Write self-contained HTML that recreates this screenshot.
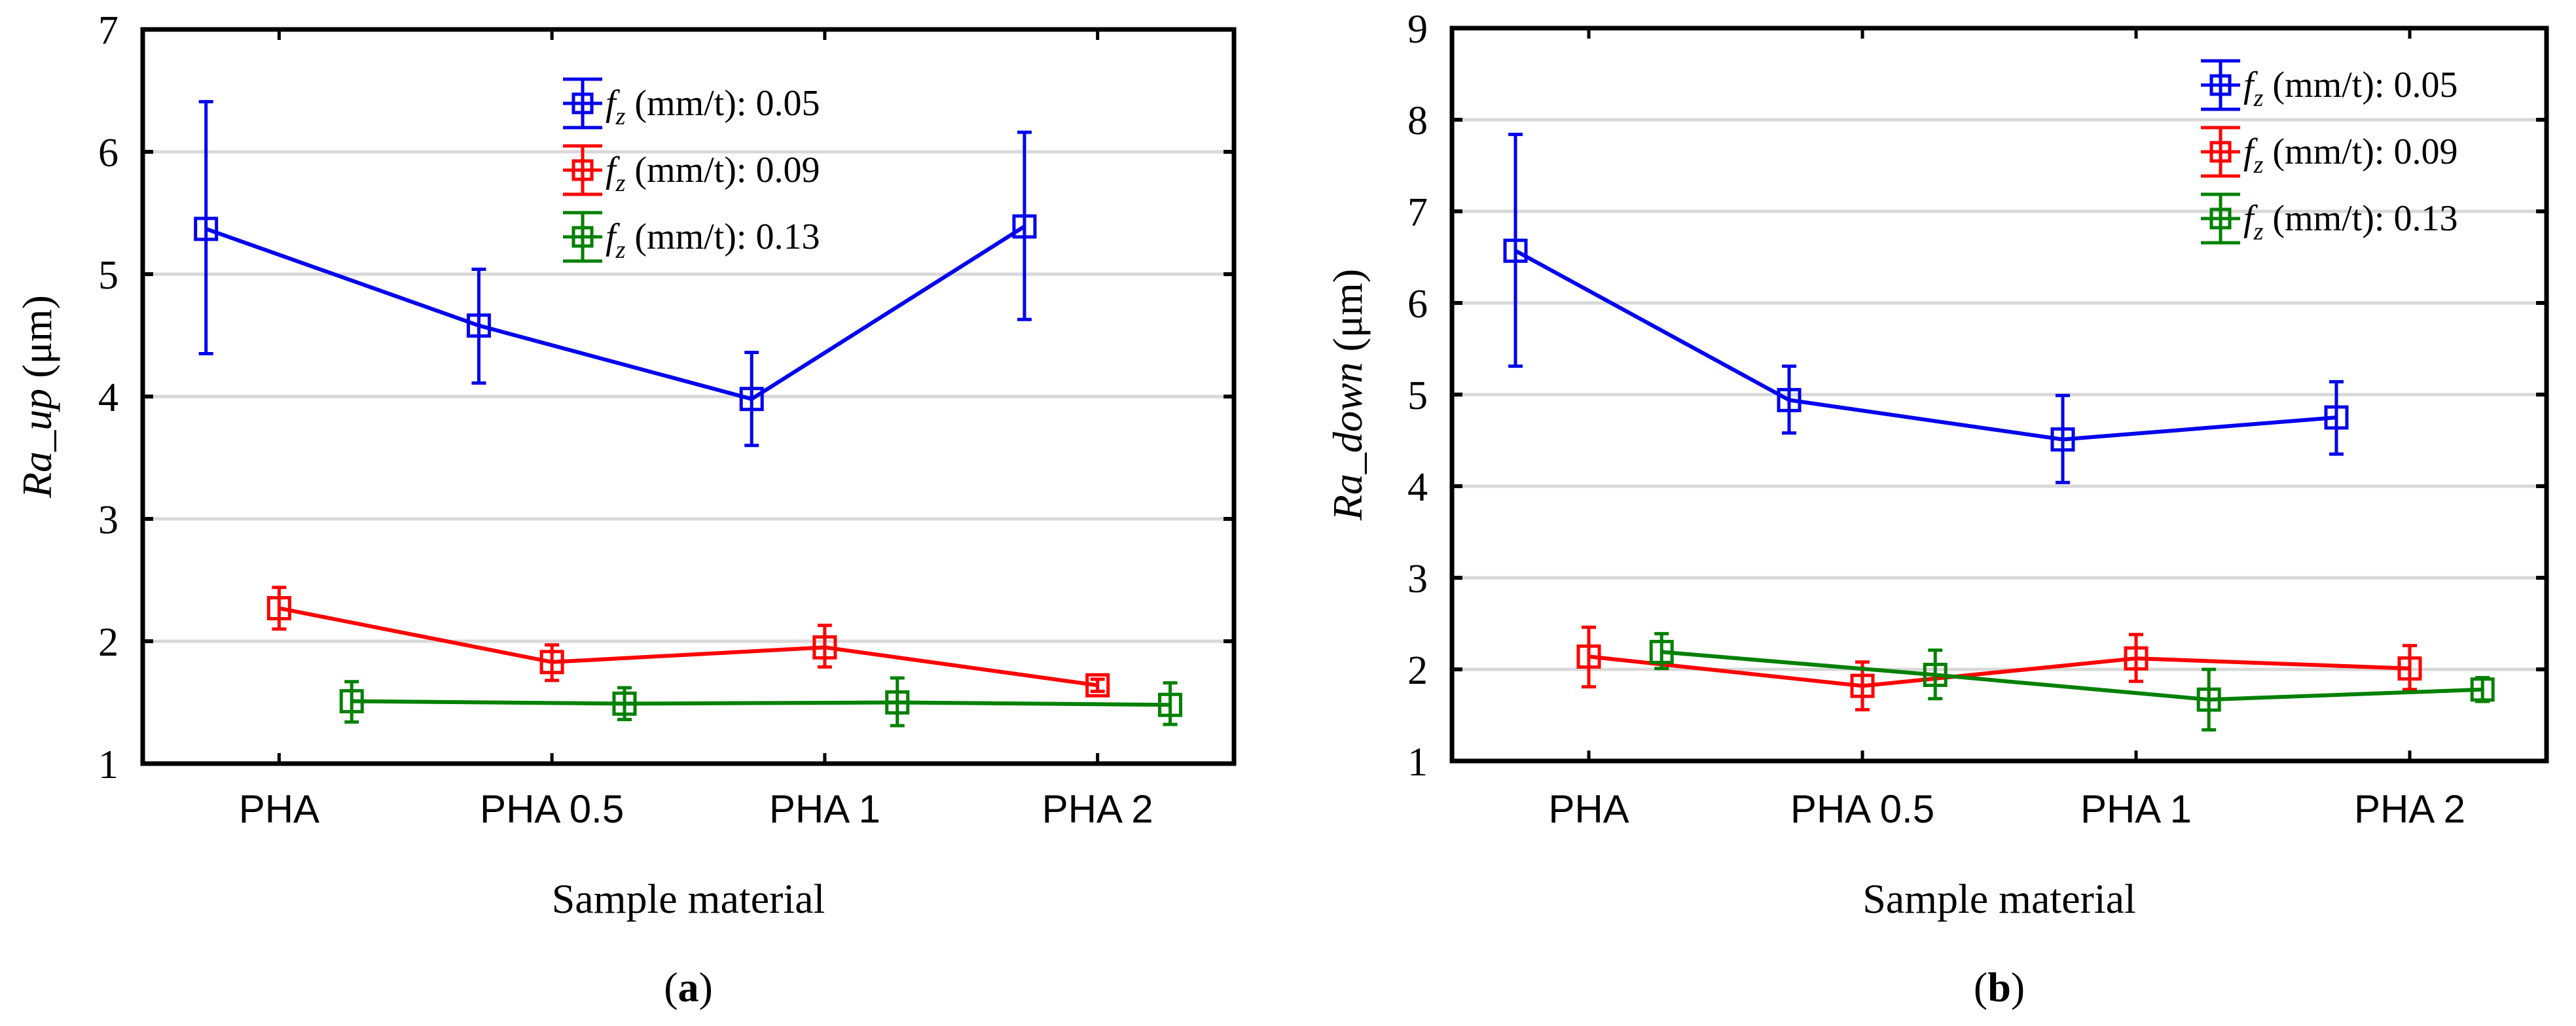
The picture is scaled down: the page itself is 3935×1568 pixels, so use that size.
<!DOCTYPE html>
<html><head><meta charset="utf-8"><style>
html,body{margin:0;padding:0;background:#fff;}
svg{display:block;}
text{font-family:"Liberation Serif",serif;fill:#000;}
.sans{font-family:"Liberation Sans",sans-serif;}
</style></head><body>
<svg id="fig" width="3935" height="1568" viewBox="0 0 3935 1568" xmlns="http://www.w3.org/2000/svg"></svg>
<script>
const categories = ["PHA", "PHA 0.5", "PHA 1", "PHA 2"];
const seriesNames = ["0.05", "0.09", "0.13"];
const colors = ["#0000ee", "#ff0000", "#008000"];
// panel (a) Ra_up
const aMean005 = [5.37, 4.58, 3.98, 5.39];
const aLow005 = [4.35, 4.11, 3.60, 4.63];
const aHigh005 = [6.41, 5.04, 4.36, 6.16];
const aMean009 = [2.27, 1.83, 1.95, 1.64];
const aLow009 = [2.10, 1.68, 1.79, 1.59];
const aHigh009 = [2.44, 1.97, 2.13, 1.69];
const aMean013 = [1.51, 1.49, 1.50, 1.48];
const aLow013 = [1.34, 1.36, 1.31, 1.32];
const aHigh013 = [1.67, 1.62, 1.70, 1.66];
const aTicks = [1, 2, 3, 4, 5, 6, 7];
// panel (b) Ra_down
const bMean005 = [6.57, 4.94, 4.51, 4.75];
const bLow005 = [5.31, 4.58, 4.04, 4.35];
const bHigh005 = [7.84, 5.31, 4.99, 5.14];
const bMean009 = [2.14, 1.82, 2.12, 2.01];
const bLow009 = [1.81, 1.56, 1.87, 1.78];
const bHigh009 = [2.46, 2.08, 2.38, 2.26];
const bMean013 = [2.19, 1.94, 1.67, 1.78];
const bLow013 = [2.01, 1.68, 1.34, 1.65];
const bHigh013 = [2.39, 2.21, 2.00, 1.91];
const bTicks = [1, 2, 3, 4, 5, 6, 7, 8, 9];

const NS = "http://www.w3.org/2000/svg";
const svg = document.getElementById("fig");
function el(tag, attrs, parent, txt) {
  const e = document.createElementNS(NS, tag);
  for (const k in attrs) e.setAttribute(k, attrs[k]);
  if (txt !== undefined) e.textContent = txt;
  (parent || svg).appendChild(e);
  return e;
}

function panel(cfg) {
  const g = el("g", {});
  
  
  const L = cfg.left, R = cfg.right, T = cfg.top, B = cfg.bottom;
  const ymin = cfg.ticks[0], ymax = cfg.ticks[cfg.ticks.length - 1];
  const y = v => B - (v - ymin) / (ymax - ymin) * (B - T);
  const band = (R - L) / categories.length;
  const x = i => L + band * (i + 0.5);
  const off = [-0.268 * band, 0, 0.266 * band];
  cfg.ticks.forEach(t => {
    if (t !== ymin && t !== ymax) {
      const gl = el("line", {x1: L, x2: R, y1: y(t), y2: y(t), stroke: "#d8d8d8", "stroke-width": 5}, g);
      
      
    }
    el("line", {x1: L, x2: L + 16, y1: y(t), y2: y(t), stroke: "#000", "stroke-width": 6}, g);
    el("line", {x1: R - 16, x2: R, y1: y(t), y2: y(t), stroke: "#000", "stroke-width": 6}, g);
    const tl = el("text", {x: L - 37, y: y(t) + 22, "font-size": 62, "text-anchor": "end"}, g, String(t));
    
    
  });
  categories.forEach((c, i) => {
    el("line", {x1: x(i), x2: x(i), y1: B, y2: B - 16, stroke: "#000", "stroke-width": 5}, g);
    el("line", {x1: x(i), x2: x(i), y1: T, y2: T + 16, stroke: "#000", "stroke-width": 5}, g);
    const xl = el("text", {x: x(i), y: 1257, "font-size": 60, "text-anchor": "middle", "class": "sans"}, g, c);
    
    
  });
  const fr = el("rect", {x: L, y: T, width: R - L, height: B - T, fill: "none", stroke: "#000", "stroke-width": 7}, g);
  
  
  cfg.series.forEach((s, si) => {
    const sg = el("g", {}, g);
    
    
    const col = colors[si];
    const pts = s.mean.map((v, i) => (x(i) + off[si]) + "," + y(v)).join(" ");
    const pl = el("polyline", {points: pts, fill: "none", stroke: col, "stroke-width": 6}, sg);
    
    
    s.mean.forEach((v, i) => {
      const cx = x(i) + off[si];
      const eb = el("path", {d: `M${cx},${y(s.high[i])}V${y(s.low[i])}M${cx - 11},${y(s.high[i])}H${cx + 11}M${cx - 11},${y(s.low[i])}H${cx + 11}`, stroke: col, "stroke-width": 5, fill: "none"}, sg);
      
      
      const mk = el("rect", {x: cx - 16, y: y(v) - 16, width: 32, height: 32, fill: "none", stroke: col, "stroke-width": 5}, sg);
      
      
    });
  });
  const lg = el("g", {}, g);
  
  
  seriesNames.forEach((n, si) => {
    const ly = cfg.legY + si * 102, lx = cfg.legX, col = colors[si];
    const en = el("g", {}, lg);
    
    
    el("path", {d: `M${lx},${ly - 37}V${ly + 37}M${lx - 30},${ly - 37}H${lx + 30}M${lx - 30},${ly + 37}H${lx + 30}M${lx - 30},${ly}H${lx + 30}`, stroke: col, "stroke-width": 5, fill: "none"}, en);
    el("rect", {x: lx - 14, y: ly - 14, width: 28, height: 28, fill: "none", stroke: col, "stroke-width": 5}, en);
    const t = el("text", {x: lx + 35, y: ly + 18, "font-size": 56}, en);
    el("tspan", {"font-style": "italic"}, t, "f");
    el("tspan", {"font-style": "italic", "font-size": 38, dy: 14}, t, "z");
    el("tspan", {dy: -14}, t, " (mm/t): " + n);
  });
  const yt = el("text", {x: 0, y: 0, "font-size": 64, "text-anchor": "middle", transform: `translate(${cfg.yTitleX},${(T + B) / 2}) rotate(-90)`}, g);
  
  
  el("tspan", {"font-style": "italic"}, yt, cfg.yTitle);
  el("tspan", {}, yt, " (μm)");
  const xt = el("text", {x: (L + R) / 2, y: 1395, "font-size": 64, "text-anchor": "middle"}, g, "Sample material");
  
  
  const cap = el("text", {x: (L + R) / 2, y: 1530, "font-size": 64, "text-anchor": "middle"}, g);
  
  
  el("tspan", {}, cap, "(");
  el("tspan", {"font-weight": "bold"}, cap, cfg.letter);
  el("tspan", {}, cap, ")");
}

panel({name: "chart-a-ra-up", left: 218, right: 1885, top: 45, bottom: 1167, ticks: aTicks,
  series: [{mean: aMean005, low: aLow005, high: aHigh005}, {mean: aMean009, low: aLow009, high: aHigh009}, {mean: aMean013, low: aLow013, high: aHigh013}],
  legX: 890, legY: 158, yTitle: "Ra_up", yTitleX: 78, letter: "a"});
panel({name: "chart-b-ra-down", left: 2218, right: 3890, top: 43, bottom: 1163, ticks: bTicks,
  series: [{mean: bMean005, low: bLow005, high: bHigh005}, {mean: bMean009, low: bLow009, high: bHigh009}, {mean: bMean013, low: bLow013, high: bHigh013}],
  legX: 3392, legY: 130, yTitle: "Ra_down", yTitleX: 2080, letter: "b"});
</script>
</body></html>
